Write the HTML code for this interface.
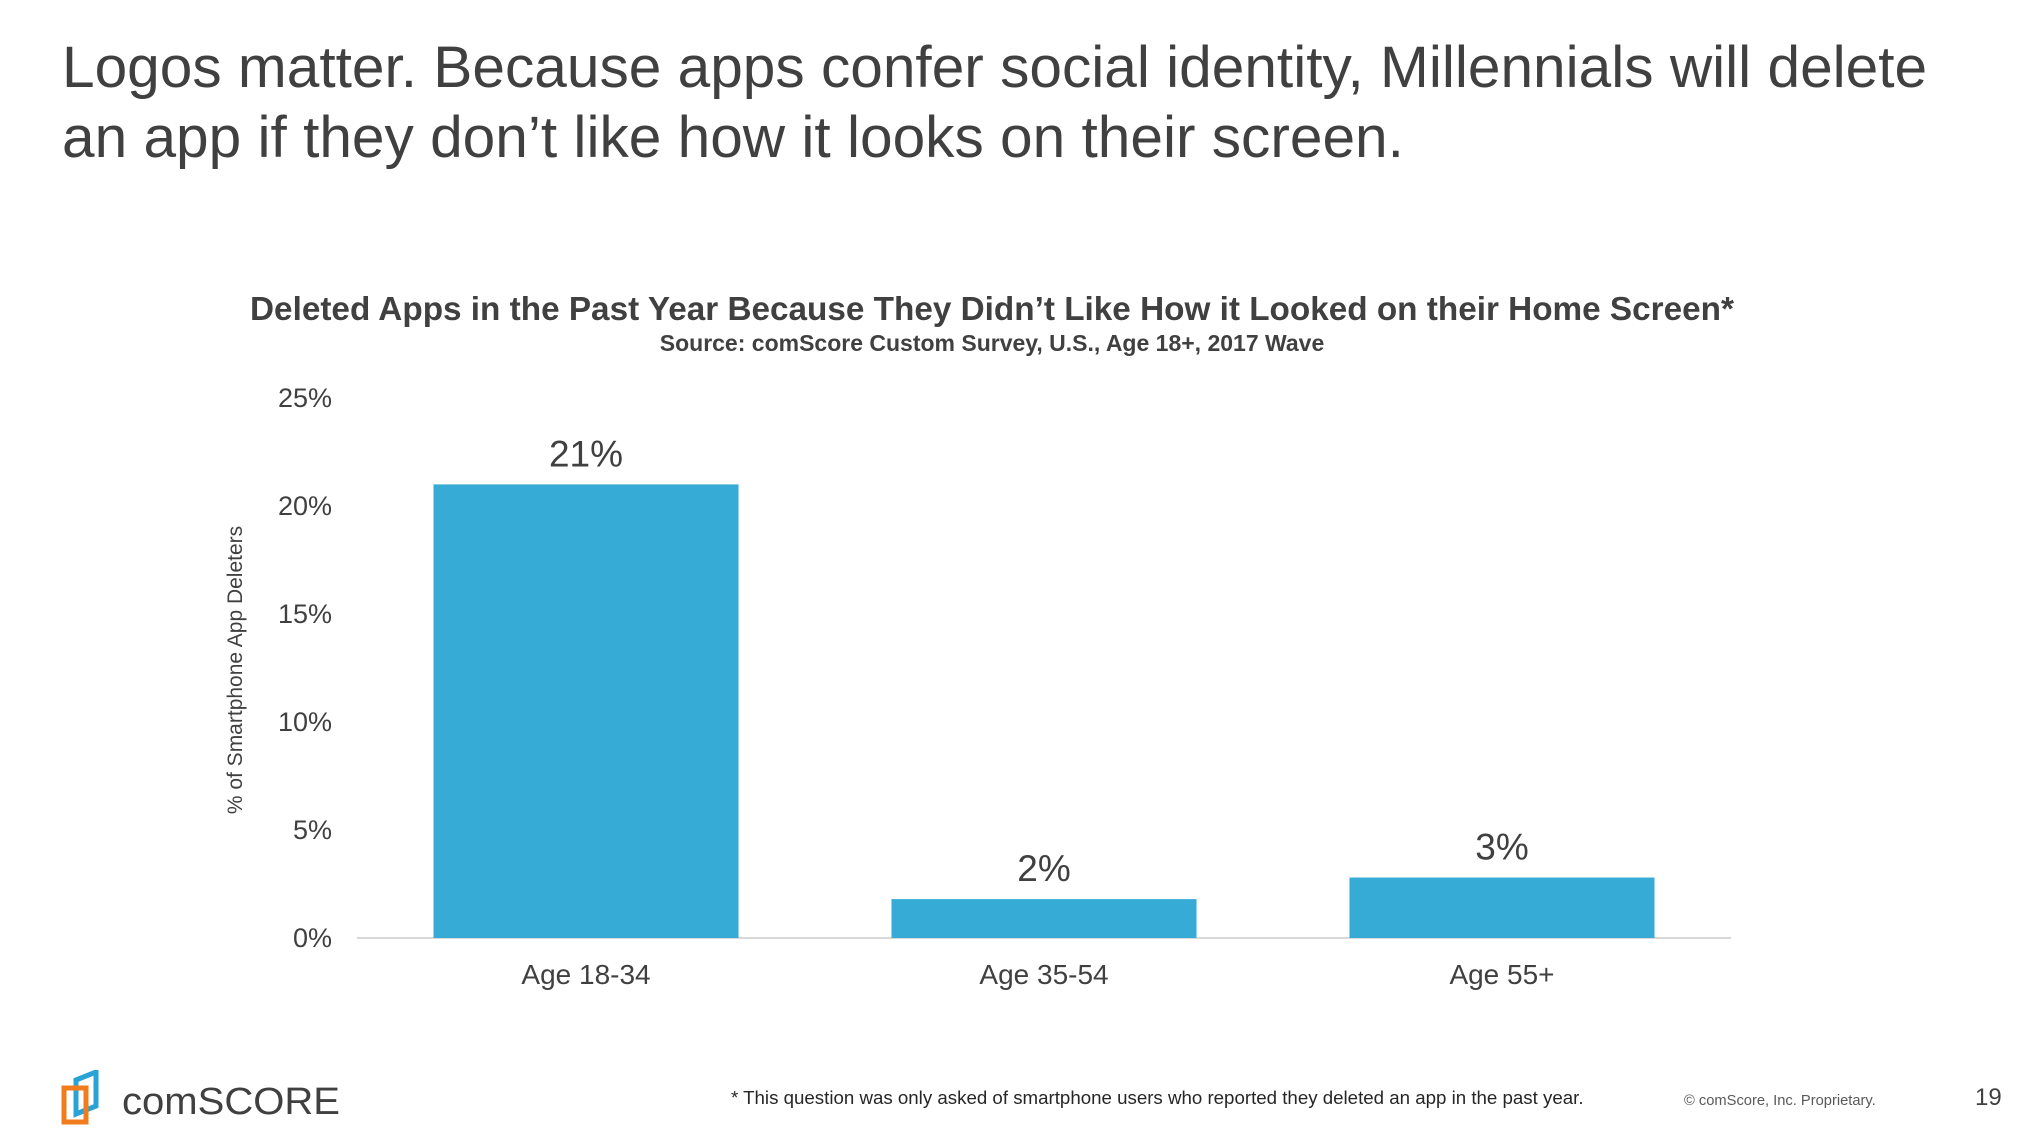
<!DOCTYPE html>
<html><head><meta charset="utf-8"><style>
body{margin:0;width:2040px;height:1148px;background:#fff;overflow:hidden;font-family:"Liberation Sans",Arial,sans-serif;color:#404040}
.t{position:absolute;white-space:nowrap}
</style></head><body>
<div class="t" style="left:62px;top:33px;font-size:58.6px;line-height:70px;color:#404040">Logos matter. Because apps confer social identity, Millennials will delete<br>an app if they don’t like how it looks on their screen.</div>
<svg width="2040" height="1148" style="position:absolute;left:0;top:0" id="chart">
<text x="992" y="320" text-anchor="middle" font-size="33.3" font-weight="bold" fill="#404040">Deleted Apps in the Past Year Because They Didn’t Like How it Looked on their Home Screen*</text>
<text x="992" y="351" text-anchor="middle" font-size="23" font-weight="bold" fill="#404040">Source: comScore Custom Survey, U.S., Age 18+, 2017 Wave</text>
<text transform="translate(242,670) rotate(-90)" text-anchor="middle" font-size="21" fill="#404040">% of Smartphone App Deleters</text>
<g id="plot"></g>
</svg>
<svg width="300" height="60" style="position:absolute;left:60px;top:1070px">
<path d="M16 10 L36 2 L36 36 L16 44 Z" fill="none" stroke="#29a3d6" stroke-width="5"/>
<path d="M4 18 L26 18 L26 52 L4 52 Z" fill="none" stroke="#f07c1e" stroke-width="5"/>
<text x="62" y="44" font-size="38" fill="#404040" font-family="Liberation Sans Narrow,Liberation Sans,sans-serif" textLength="218" lengthAdjust="spacingAndGlyphs">comSCORE</text>
</svg>
<div class="t" style="left:731px;top:1087px;font-size:18.7px;color:#262626">* This question was only asked of smartphone users who reported they deleted an app in the past year.</div>
<div class="t" style="left:1684px;top:1093px;font-size:14.7px;color:#595959">© comScore, Inc. Proprietary.</div>
<div class="t" style="left:1975px;top:1084px;font-size:24px;color:#404040">19</div>
<script>
const categories=["Age 18-34","Age 35-54","Age 55+"];
const values=[21,1.8,2.8];
const valueLabels=["21%","2%","3%"];
const ticks=[0,5,10,15,20,25];
const tickLabels=["0%","5%","10%","15%","20%","25%"];
const NS="http://www.w3.org/2000/svg";
const g=document.getElementById('plot');
const x0=357,x1=1731,y0=938,yTop=398,maxV=25;
const y=v=>y0-(v/maxV)*(y0-yTop);
const band=(x1-x0)/categories.length;
const xc=i=>x0+band*(i+0.5);
const bw=band*0.666;
function mk(t,a){const e=document.createElementNS(NS,t);for(const k in a)e.setAttribute(k,a[k]);g.appendChild(e);return e;}
ticks.forEach((t,i)=>{const e=mk('text',{x:332,y:y(t)+9,'text-anchor':'end','font-size':27,fill:'#404040'});e.textContent=tickLabels[i];

});
const ax=mk('line',{x1:x0,x2:x1,y1:y0,y2:y0,stroke:'#d9d9d9','stroke-width':2});


categories.forEach((c,i)=>{
const r=mk('rect',{x:xc(i)-bw/2,y:y(values[i]),width:bw,height:y0-y(values[i]),fill:'#35abd6'});


const l=mk('text',{x:xc(i),y:y(values[i])-18,'text-anchor':'middle','font-size':37,fill:'#404040'});l.textContent=valueLabels[i];


const cl=mk('text',{x:xc(i),y:984,'text-anchor':'middle','font-size':28,fill:'#404040'});cl.textContent=c;


});
</script>
</body></html>
